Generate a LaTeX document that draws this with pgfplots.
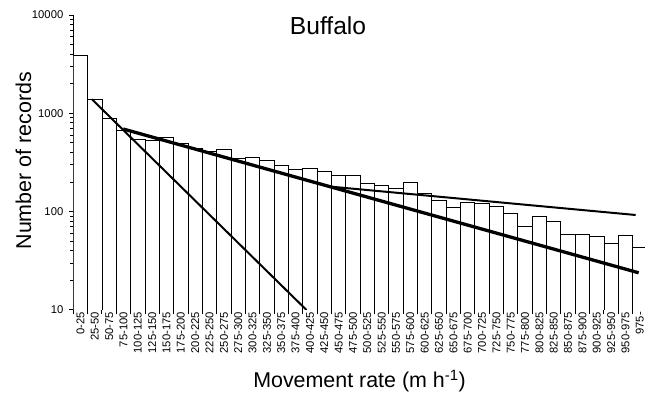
\documentclass[border=0pt]{standalone}
\usepackage{fontspec}
\setmainfont{Liberation Sans}
\usepackage{pgfplots}
\usepackage{pgfplotstable}
\pgfplotsset{compat=1.18}
\pgfplotstableread{
x y
0 3860
1 1390
2 877
3 667
4 545
5 536
6 571
7 496
8 437
9 408
10 427
11 346
12 358
13 330
14 292
15 266
16 276
17 259
18 235
19 232
20 194
21 185
22 173
23 199
24 152
25 131
26 110
27 124
28 122
29 114
30 95
31 70
32 90
33 79
34 59
35 58
36 56
37 48
38 57
39 43.5
}\bars
\begin{document}
\begin{tikzpicture}
\begin{axis}[
  at={(73.3bp,86bp)}, anchor=south west,
  scale only axis, width=573.7bp, height=295bp,
  ymode=log, log origin=infty,
  xmin=-0.5, xmax=39.5, ymin=10, ymax=10000,
  axis x line=bottom, axis y line=left,
  axis line style={-, line width=1bp},
  tick align=outside, major tick length=4.5bp,
  tick style={black, line width=1bp},
  /pgf/number format/assume math mode=true,
  ytick={10,100,1000,10000},
  yticklabels={10,100,1000,10000},
  yticklabel style={font=\fontsize{11.3}{13}\selectfont, xshift=-2bp},
  xtick={-0.5,0.5,...,39.5},
  xticklabels={},
  extra x ticks={0,1,...,39},
  extra x tick labels={0-25,25-50,50-75,75-100,100-125,125-150,150-175,175-200,200-225,225-250,250-275,275-300,300-325,325-350,350-375,375-400,400-425,425-450,450-475,475-500,500-525,525-550,550-575,575-600,600-625,625-650,650-675,675-700,700-725,725-750,750-775,775-800,800-825,825-850,850-875,875-900,900-925,925-950,950-975,975-},
  extra x tick style={major tick length=0pt,
    tick label style={yshift=-2bp, rotate=90, anchor=east, font=\fontsize{11.3}{13}\selectfont, inner sep=0pt}},
  xlabel={Movement rate (m h\textsuperscript{-1})},
  xlabel style={at={(axis description cs:0.499,-0.264)}, anchor=base, font=\fontsize{21.5}{24}\selectfont},
  ylabel={Number of records},
  ylabel style={at={(axis description cs:-0.0737,0.506)}, anchor=base, rotate=0, font=\fontsize{21.5}{24}\selectfont},
  title={Buffalo},
  title style={at={(axis description cs:0.444,0.912)}, anchor=base, font=\fontsize{24.7}{28}\selectfont},
]
\addplot[ybar, bar width=1, fill=white, draw=black, line width=0.9bp] table[x=x,y=y] {\bars};
\addplot[black, line width=2bp, no markers] coordinates {(0.8,1390) (15.76,10)};
\addplot[black, line width=3.3bp, no markers] coordinates {(2.98,693) (38.92,23.9)};
\addplot[black, line width=2bp, no markers] coordinates {(17.4,180) (38.71,92.5)};
\end{axis}
\pgfresetboundingbox
\useasboundingbox (0,0) rectangle (645bp,396bp);
\end{tikzpicture}
\end{document}
